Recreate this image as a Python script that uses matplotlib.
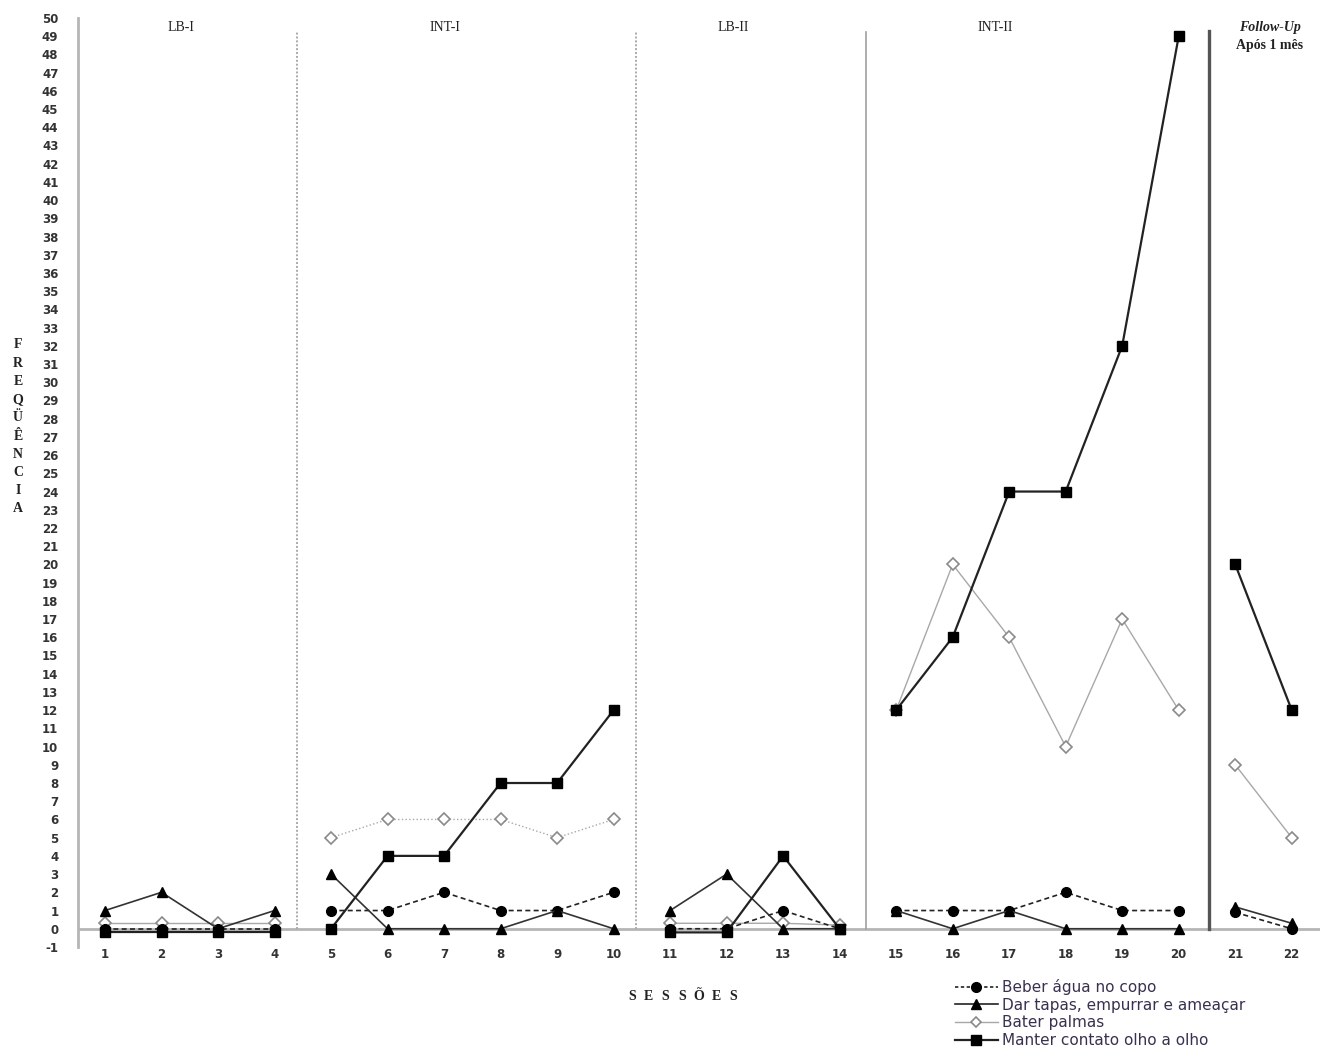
import matplotlib.pyplot as plt

plt.rcParams["font.family"] = ["DejaVu Sans"]
plt.rcParams["axes.unicode_minus"] = False

sessions = list(range(1, 23))
beber = [0, 0, 0, 0, 1, 1, 2, 1, 1, 2, 0, 0, 1, 0, 1, 1, 1, 2, 1, 1, 0.9, 0]
dar = [1, 2, 0, 1, 3, 0, 0, 0, 1, 0, 1, 3, 0, 0, 1, 0, 1, 0, 0, 0, 1.2, 0.3]
bater = [0.3, 0.3, 0.3, 0.3, 5, 6, 6, 6, 5, 6, 0.3, 0.3, 0.3, 0.2,
         12, 20, 16, 10, 17, 12, 9, 5]
manter = [-0.2, -0.2, -0.2, -0.2, 0, 4, 4, 8, 8, 12, -0.2, -0.2, 4, 0,
          12, 16, 24, 24, 32, 49, 20, 12]

phase_slices = [(0, 4), (4, 10), (10, 14), (14, 20), (20, 22)]
phase_names = ["LB-I", "INT-I", "LB-II", "INT-II"]
phase_breaks = [4.4, 10.4, 14.46, 20.53]

fig = plt.figure(figsize=(13.2, 10.53), dpi=100)
ax = fig.add_axes([0.059, 0.1007, 0.941, 0.8823])

axis_gray = "#b5b5b5"

for i, (a, b) in enumerate(phase_slices):
    x = sessions[a:b]
    bater_ls = ":" if i == 1 else "-"
    ax.plot(x, bater[a:b], color="#a8a8a8", lw=1.0, ls=bater_ls, marker="D",
            ms=6, mfc="white", mec="#8a8a8a", mew=1.2, zorder=3)
    ax.plot(x, beber[a:b], color="#222222", lw=1.2, ls=(0, (3, 2)), marker="o",
            ms=7, mfc="black", mec="black", zorder=4)
    ax.plot(x, dar[a:b], color="#333333", lw=1.2, marker="^",
            ms=6.5, mfc="black", mec="black", zorder=4)
    ax.plot(x, manter[a:b], color="#222222", lw=1.6, marker="s",
            ms=7.5, mfc="black", mec="black", zorder=5)

# phase change lines
ax.plot([phase_breaks[0]] * 2, [0, 49.2], color="#aaaaaa", lw=1.4, ls=(0, (1, 1)))
ax.plot([phase_breaks[1]] * 2, [0, 49.2], color="#aaaaaa", lw=1.4, ls=(0, (1, 1)))
ax.plot([phase_breaks[2]] * 2, [0, 49.2], color="#a0a0a0", lw=1.2)
ax.plot([phase_breaks[3]] * 2, [0, 49.3], color="#555555", lw=2.4)

ax.axhline(0, color=axis_gray, lw=2, zorder=1)

ax.set_xlim(0.52, 22.5)
ax.set_ylim(-1, 50)
ax.set_xticks(sessions)
ax.set_yticks(range(-1, 51))
ax.tick_params(axis="both", length=0, labelsize=8.5, labelcolor="#333333")
ax.tick_params(axis="x", pad=1)
ax.tick_params(axis="y", pad=14)
for lbl in ax.get_xticklabels() + ax.get_yticklabels():
    lbl.set_fontweight("bold")

for side in ["top", "right", "bottom"]:
    ax.spines[side].set_visible(False)
ax.spines["left"].set_color(axis_gray)
ax.spines["left"].set_linewidth(2)

# phase titles
title_x = [2.35, 7.02, 12.11, 16.75]
for name, tx in zip(phase_names, title_x):
    ax.text(tx, 49.45, name, ha="center", va="center", fontsize=10,
            family="Liberation Serif", color="#222222")
ax.text(21.61, 49.45, "Follow-Up", ha="center", va="center", fontsize=10,
        family="Liberation Serif", style="italic", weight="bold", color="#222222")
ax.text(21.61, 48.5, "Após 1 mês", ha="center", va="center", fontsize=10,
        family="Liberation Serif", weight="bold", color="#222222")

# vertical y label, stacked letters
letters = ["F", "R", "E", "Q", "Ü", "Ê", "N", "C", "I", "A"]
for k, ch in enumerate(letters):
    fig.text(18 / 1320, 1 - (345 + k * 18.2) / 1053, ch, ha="center", va="center",
             fontsize=10, family="Liberation Serif", weight="bold", color="#222222")

# x label, spaced letters
for k, ch in enumerate("SESSÕES"):
    fig.text((632 + k * 16.8) / 1320, 1 - 996 / 1053, ch, ha="center", va="center",
             fontsize=10, family="Liberation Serif", weight="bold", color="#222222")

# legend
leg_handles = [
    ax.plot([], [], color="#222222", lw=1.2, ls=(0, (2, 1.5)), marker="o", ms=7,
            mfc="black", mec="black")[0],
    ax.plot([], [], color="#222222", lw=1.2, marker="^", ms=6.5,
            mfc="black", mec="black")[0],
    ax.plot([], [], color="#a8a8a8", lw=1.0, marker="D", ms=5.5,
            mfc="white", mec="#8a8a8a", mew=1.2)[0],
    ax.plot([], [], color="#222222", lw=1.6, marker="s", ms=7.5,
            mfc="black", mec="black")[0],
]
leg_labels = ["Beber água no copo", "Dar tapas, empurrar e ameaçar",
              "Bater palmas", "Manter contato olho a olho"]
fig.legend(leg_handles, leg_labels, loc="upper left",
           bbox_to_anchor=(955 / 1320, 1 - 979 / 1053), frameon=False,
           fontsize=11, handlelength=2.8, handletextpad=0.3,
           labelspacing=0.18, borderaxespad=0, borderpad=0,
           labelcolor="#3a3050")

fig.savefig("out.png", dpi=100)
